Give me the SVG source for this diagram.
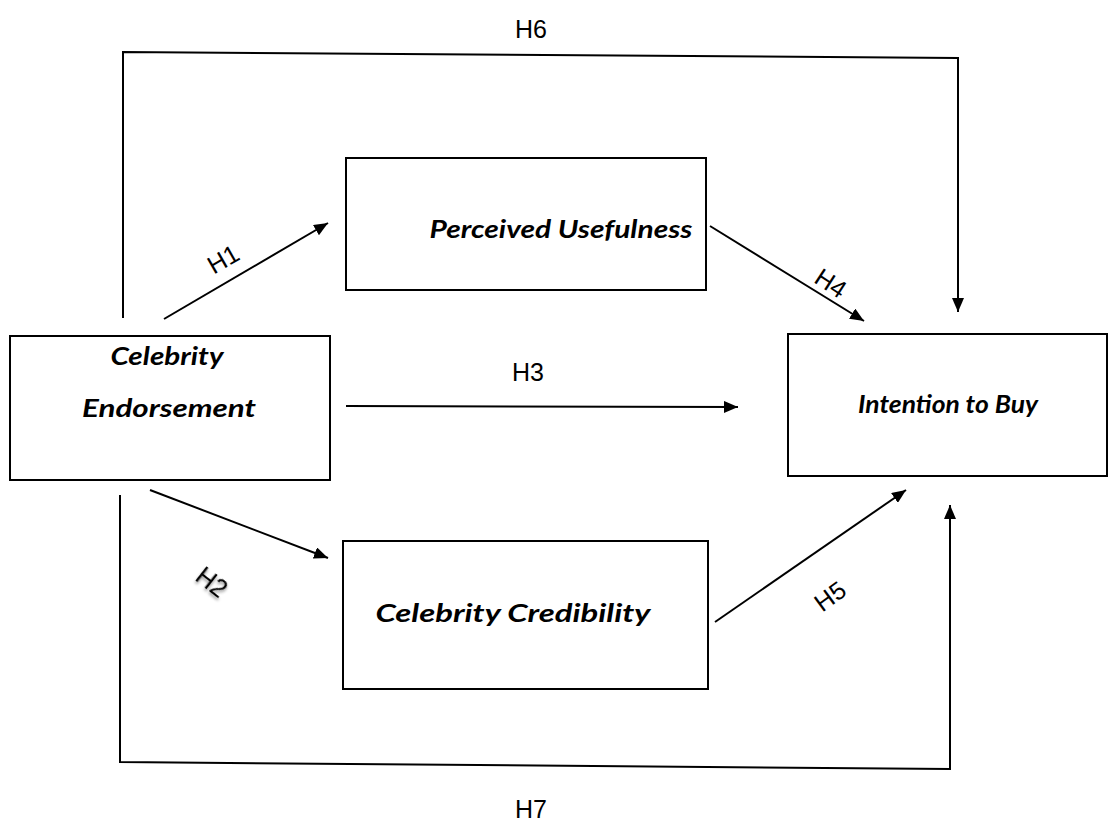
<svg xmlns="http://www.w3.org/2000/svg" width="1118" height="826" viewBox="0 0 1118 826">
<style>
.box{fill:#fff;stroke:#000;stroke-width:2}
.nl{font-family:Lato,"Open Sans","Liberation Sans",sans-serif;font-weight:bold;font-style:italic;font-size:24px;fill:#000;text-anchor:middle}
.hl{font-family:"Liberation Sans",Arial,sans-serif;font-size:25px;fill:#000;text-anchor:middle}
.hr{font-family:"Liberation Sans",Arial,sans-serif;font-size:25px;fill:#000;text-anchor:middle;dominant-baseline:central}
.ln{fill:none;stroke:#000;stroke-width:2}
</style>
<defs>
<marker id="ah" viewBox="0 0 14 12" refX="14" refY="6" markerWidth="14" markerHeight="12" markerUnits="userSpaceOnUse" orient="auto">
<path d="M0,0 L14,6 L0,12 Z" fill="#000"/>
</marker>
<filter id="sh" x="-50%" y="-50%" width="200%" height="200%">
<feDropShadow dx="1" dy="2" stdDeviation="1.5" flood-color="#000" flood-opacity="0.45"/>
</filter>
</defs>
<g id="n-endorsement">
<rect class="box" x="10" y="336" width="320" height="144"/>
<text class="nl" x="167" y="365" textLength="113" lengthAdjust="spacingAndGlyphs">Celebrity</text>
<text class="nl" x="169" y="417" textLength="174" lengthAdjust="spacingAndGlyphs">Endorsement</text>
</g>
<g id="n-usefulness">
<rect class="box" x="346" y="158" width="360" height="132"/>
<text class="nl" x="561" y="238" textLength="263" lengthAdjust="spacingAndGlyphs">Perceived Usefulness</text>
</g>
<g id="n-intention">
<rect class="box" x="788" y="334" width="319" height="142"/>
<text class="nl" x="948" y="413" textLength="180" lengthAdjust="spacingAndGlyphs">Intention to Buy</text>
</g>
<g id="n-credibility">
<rect class="box" x="343" y="541" width="365" height="148"/>
<text class="nl" x="513" y="622" textLength="275" lengthAdjust="spacingAndGlyphs">Celebrity Credibility</text>
</g>
<g id="connectors">
<polyline class="ln" points="123,318 123,52 958,58 958,312" marker-end="url(#ah)"/>
<polyline class="ln" points="120,495 120,762 950,769 950,505" marker-end="url(#ah)"/>
<line class="ln" x1="164" y1="319" x2="328" y2="223" marker-end="url(#ah)"/>
<line class="ln" x1="710" y1="226" x2="864" y2="321" marker-end="url(#ah)"/>
<line class="ln" x1="346" y1="406" x2="738" y2="407" marker-end="url(#ah)"/>
<line class="ln" x1="150" y1="490" x2="328" y2="558" marker-end="url(#ah)"/>
<line class="ln" x1="715" y1="622" x2="906" y2="490" marker-end="url(#ah)"/>
</g>
<g id="labels">
<text class="hl" x="531" y="38">H6</text>
<text class="hl" x="531" y="818">H7</text>
<text class="hl" x="528" y="381">H3</text>
<text class="hr" transform="translate(223,259) rotate(-30)">H1</text>
<text class="hr" transform="translate(831,283) rotate(33)">H4</text>
<text class="hr" filter="url(#sh)" transform="translate(212,582) rotate(38)">H2</text>
<text class="hr" transform="translate(830,596) rotate(-36)">H5</text>
</g>
</svg>
